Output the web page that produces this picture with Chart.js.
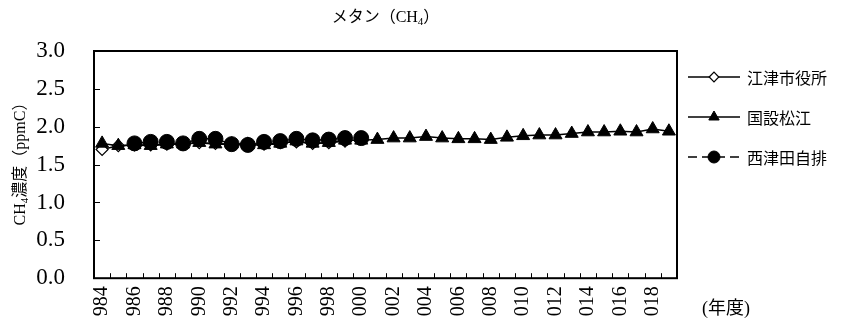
<!DOCTYPE html>
<html>
<head>
<meta charset="utf-8">
<script src="https://cdn.jsdelivr.net/npm/chart.js@4.4.1/dist/chart.umd.min.js"></script>
<style>
  html, body { margin: 0; padding: 0; background: #fff; }
</style>
</head>
<body>
<canvas id="methaneChart" width="846" height="321"></canvas>
<script>
// fiscal years on the category axis
const years = [1984, 1985, 1986, 1987, 1988, 1989, 1990, 1991, 1992, 1993,
    1994, 1995, 1996, 1997, 1998, 1999, 2000, 2001, 2002, 2003,
    2004, 2005, 2006, 2007, 2008, 2009, 2010, 2011, 2012, 2013,
    2014, 2015, 2016, 2017, 2018, 2019];

// CH4 (ppmC) per station
const gotsuCityHall = [1.70, 1.75, 1.76, 1.76, 1.77, 1.78, 1.79, 1.78, 1.77, 1.78,
    1.77, 1.79, 1.80, 1.78, 1.79, 1.81, null, null, null, null,
    null, null, null, null, null, null, null, null, null, null,
    null, null, null, null, null, null];
const kokusetsuMatsue = [1.78, 1.75, 1.76, 1.75, 1.77, 1.77, 1.79, 1.77, 1.77, 1.76,
    1.76, 1.78, 1.81, 1.78, 1.79, 1.82, 1.82, 1.83, 1.85, 1.85,
    1.87, 1.85, 1.84, 1.84, 1.83, 1.86, 1.88, 1.89, 1.89, 1.91,
    1.93, 1.93, 1.94, 1.93, 1.97, 1.94];
const nishitsudaJihai = [null, null, 1.78, 1.80, 1.80, 1.78, 1.84, 1.84, 1.77, 1.76,
    1.80, 1.81, 1.84, 1.82, 1.83, 1.85, 1.85, null, null, null,
    null, null, null, null, null, null, null, null, null, null,
    null, null, null, null, null, null];

const seriesNames = ['江津市役所', '国設松江', '西津田自排'];
const yTicks = [0, 0.5, 1.0, 1.5, 2.0, 2.5, 3.0];

const serif = '"Liberation Serif", "Noto Sans CJK JP", serif';
const gothic = '"Noto Sans CJK JP", sans-serif';

// draws head + subscript + tail starting at x (in current transform)
function drawSubText(ctx, x, y, head, sub, tail, size) {
    ctx.font = size + 'px ' + serif;
    ctx.fillText(head, x, y);
    x += ctx.measureText(head).width;
    ctx.font = Math.round(size * 0.7) + 'px ' + serif;
    ctx.fillText(sub, x, y + size * 0.25);
    x += ctx.measureText(sub).width;
    ctx.font = size + 'px ' + serif;
    ctx.fillText(tail, x, y);
}
function subTextWidth(ctx, head, sub, tail, size) {
    ctx.font = size + 'px ' + serif;
    let w = ctx.measureText(head).width + ctx.measureText(tail).width;
    ctx.font = Math.round(size * 0.7) + 'px ' + serif;
    return w + ctx.measureText(sub).width;
}

const decorations = {
    id: 'decorations',
    afterDraw(chart) {
        const { ctx, chartArea: a, scales: { x, y } } = chart;
        ctx.save();
        ctx.strokeStyle = '#000';
        ctx.fillStyle = '#000';

        // plot frame
        ctx.lineWidth = 2;
        ctx.strokeRect(a.left, a.top, a.right - a.left, a.bottom - a.top);

        // inward tick marks
        ctx.lineWidth = 1;
        ctx.beginPath();
        yTicks.forEach(v => {
            const py = Math.round(y.getPixelForValue(v)) + 0.5;
            ctx.moveTo(a.left, py);
            ctx.lineTo(a.left + 6, py);
        });
        for (let i = 1; i < years.length; i++) {
            const px = Math.round((x.getPixelForValue(i - 1) + x.getPixelForValue(i)) / 2) + 0.5;
            ctx.moveTo(px, a.bottom);
            ctx.lineTo(px, a.bottom - 5);
        }
        ctx.stroke();

        // title
        ctx.textBaseline = 'middle';
        ctx.textAlign = 'left';
        const tSize = 16;
        const tw = subTextWidth(ctx, 'メタン（CH', '4', '）', tSize);
        drawSubText(ctx, (a.left + a.right) / 2 - tw / 2, 18, 'メタン（CH', '4', '）', tSize);

        // y axis title
        ctx.save();
        ctx.translate(21, 160);
        ctx.rotate(-Math.PI / 2);
        const ySize = 16;
        const yw = subTextWidth(ctx, 'CH', '4', '濃度（ppmC）', ySize);
        drawSubText(ctx, -yw / 2, 0, 'CH', '4', '濃度（ppmC）', ySize);
        ctx.restore();

        // x axis unit
        ctx.font = '18px ' + serif;
        ctx.fillText('(年度)', 702, 309);

        // legend
        const legendY = [77, 117, 157];
        chart.data.datasets.forEach((ds, i) => {
            const ly = legendY[i];
            ctx.lineWidth = ds.borderWidth;
            ctx.setLineDash(ds.borderDash || []);
            ctx.beginPath();
            ctx.moveTo(688, ly);
            ctx.lineTo(740, ly);
            ctx.stroke();
            ctx.setLineDash([]);
            ctx.fillStyle = ds.pointBackgroundColor;
            ctx.strokeStyle = ds.pointBorderColor;
            ctx.lineWidth = ds.pointBorderWidth;
            Chart.helpers.drawPoint(ctx, {
                pointStyle: ds.pointStyle,
                radius: ds.pointRadius * 0.8,
                rotation: 0,
                borderWidth: ds.pointBorderWidth
            }, 714, ly);
            ctx.fillStyle = '#000';
            ctx.strokeStyle = '#000';
            ctx.font = '16px ' + gothic;
            ctx.fillText(ds.label, 747, ly + 1);
        });
        ctx.restore();
    }
};

const ctx = document.getElementById('methaneChart').getContext('2d');
new Chart(ctx, {
    type: 'line',
    data: {
        labels: years,
        datasets: [{
            label: seriesNames[0],
            data: gotsuCityHall,
            borderColor: '#000',
            borderWidth: 1.5,
            pointStyle: 'rectRot',
            pointRadius: 6,
            pointBackgroundColor: '#fff',
            pointBorderColor: '#000',
            pointBorderWidth: 1.2,
            order: 3
        }, {
            label: seriesNames[1],
            data: kokusetsuMatsue,
            borderColor: '#000',
            borderWidth: 1.5,
            pointStyle: 'triangle',
            pointRadius: 7.5,
            pointBackgroundColor: '#000',
            pointBorderColor: '#000',
            pointBorderWidth: 1,
            order: 2
        }, {
            label: seriesNames[2],
            data: nishitsudaJihai,
            borderColor: '#000',
            borderWidth: 1.5,
            borderDash: [9, 5],
            pointStyle: 'circle',
            pointRadius: 7.5,
            pointBackgroundColor: '#000',
            pointBorderColor: '#000',
            pointBorderWidth: 1,
            order: 1
        }]
    },
    options: {
        responsive: false,
        animation: false,
        devicePixelRatio: 1,
        layout: { padding: { left: 0, right: 169, top: 51, bottom: 0 } },
        plugins: {
            legend: { display: false },
            tooltip: { enabled: false }
        },
        scales: {
            x: {
                offset: true,
                grid: { display: false, drawTicks: false },
                border: { display: false },
                ticks: {
                    autoSkip: false,
                    maxRotation: 90,
                    minRotation: 90,
                    padding: 8,
                    color: '#000',
                    font: { family: serif, size: 20 },
                    callback: (v, i) => (years[i] % 2 === 0 ? String(years[i]).slice(1) : '')
                },
                afterFit: s => { s.height = 39; }
            },
            y: {
                min: 0,
                max: 3,
                grid: { display: false, drawTicks: false },
                border: { display: false },
                ticks: {
                    stepSize: 0.5,
                    padding: 29,
                    color: '#000',
                    font: { family: serif, size: 23 },
                    callback: v => v.toFixed(1)
                },
                afterFit: s => { s.width = 94; }
            }
        }
    },
    plugins: [decorations]
});
</script>
</body>
</html>
